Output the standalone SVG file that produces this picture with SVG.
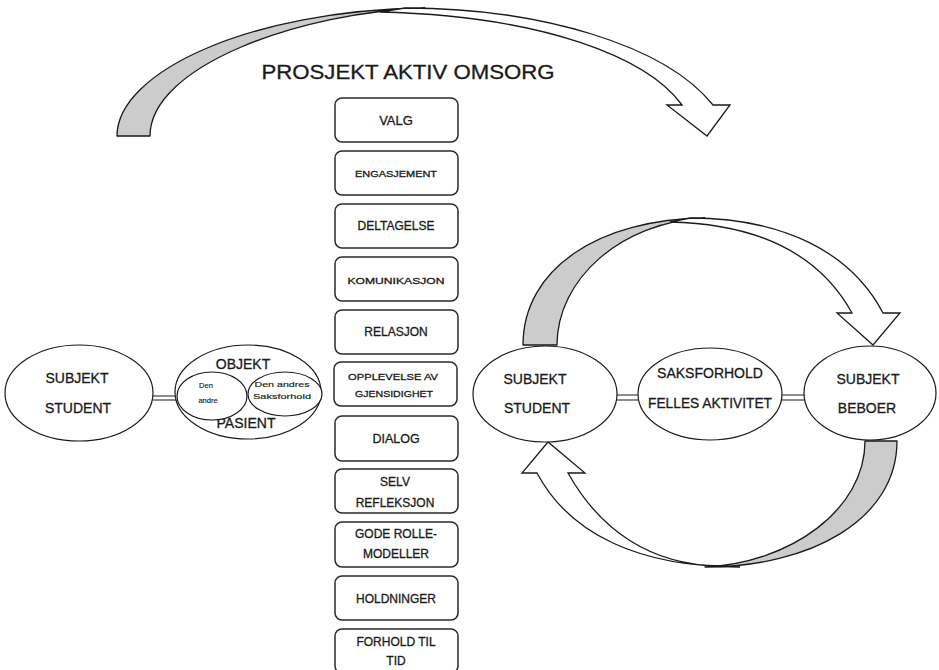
<svg xmlns="http://www.w3.org/2000/svg" width="939" height="670" viewBox="0 0 939 670">
<style>
text{font-family:"Liberation Sans",Arial,sans-serif;fill:#1a1a1a;stroke:#1a1a1a;stroke-width:0.3;text-anchor:middle}
.box{fill:#fff;stroke:#2a2a2a;stroke-width:1.5}
.ell{fill:#fff;stroke:#1a1a1a;stroke-width:1.2}
.gray{fill:#cccccc;stroke:#1a1a1a;stroke-width:1.3;stroke-linejoin:round}
.white{fill:#fff;stroke:#1a1a1a;stroke-width:1.3;stroke-linejoin:miter}
.dl{stroke:#1a1a1a;stroke-width:1.2;fill:none}
.t14{font-size:14px}
.t12{font-size:12px}
.t9{font-size:9px}
.t7{font-size:7.5px;stroke-width:0.15}
</style>
<rect width="939" height="670" fill="#fff"/>

<g id="connectors">
  <path class="gray" d="M117,136 C117,72 250,10 425,8 C300,12 150,66 150,136 Z"/>
  <path class="white" d="M405,8 C540,8 665,45 713,105 L730,105 L707,136 L667,105 L682,105 C648,58 545,16 380,12 Z"/>
  <path class="gray" d="M523,345 C523,268 600,219 705,218 C620,222 557,280 557,345 Z"/>
  <path class="white" d="M690,218 C780,218 850,250 883,313 L900,313 L873,345 L837,313 L852,313 C820,255 760,224 670,222 Z"/>
  <path class="white" d="M740,567 C640,567 570,535 537,473 L522,473 L548,442 L585,473 L568,473 C600,530 650,565 720,566 Z"/>
  <path class="gray" d="M897,441 C897,520 810,567 705,567 C790,563 865,510 865,441 Z"/>
  <path class="dl" d="M153,396 H178 M153,400 H178"/>
  <path class="dl" d="M245,395 H252 M245,398.5 H252"/>
  <path class="dl" d="M617,395 H639 M617,400 H639"/>
  <path class="dl" d="M782,395 H806 M782,400 H806"/>
</g>

<g id="title"><text x="408" y="79" font-size="20" textLength="293" lengthAdjust="spacingAndGlyphs">PROSJEKT AKTIV OMSORG</text></g>

<g id="subjekt-student-left">
  <ellipse class="ell" cx="79" cy="393" rx="74" ry="48"/>
  <text class="t14" x="77" y="383">SUBJEKT</text>
  <text class="t14" x="78" y="413">STUDENT</text>
</g>
<g id="objekt-pasient">
  <ellipse class="ell" cx="248" cy="392" rx="73" ry="47"/>
  <text class="t14" x="243" y="369">OBJEKT</text>
  <text class="t14" x="246" y="428">PASIENT</text>
  <g id="den-andre">
    <ellipse class="ell" cx="212" cy="396" rx="35" ry="24"/>
    <text class="t7" x="206" y="388">Den</text>
    <text class="t7" x="208" y="403">andre</text>
  </g>
  <g id="den-andres-saksforhold">
    <ellipse class="ell" cx="285" cy="394" rx="37" ry="22"/>
    <text class="t7" x="282" y="387" textLength="55" lengthAdjust="spacingAndGlyphs">Den andres</text>
    <text class="t7" x="282" y="399" textLength="58" lengthAdjust="spacingAndGlyphs">Saksforhold</text>
  </g>
</g>

<g id="valg"><rect class="box" x="335" y="98" width="123" height="44" rx="7"/><text x="396" y="125" font-size="13">VALG</text></g>
<g id="engasjement"><rect class="box" x="335" y="151" width="123" height="44" rx="7"/><text class="t9" x="396" y="177" textLength="82" lengthAdjust="spacingAndGlyphs">ENGASJEMENT</text></g>
<g id="deltagelse"><rect class="box" x="335" y="204" width="123" height="44" rx="7"/><text class="t12" x="396" y="230">DELTAGELSE</text></g>
<g id="komunikasjon"><rect class="box" x="335" y="257" width="123" height="44" rx="7"/><text class="t9" x="396" y="284" textLength="97" lengthAdjust="spacingAndGlyphs">KOMUNIKASJON</text></g>
<g id="relasjon"><rect class="box" x="335" y="310" width="123" height="44" rx="7"/><text class="t12" x="396" y="336">RELASJON</text></g>
<g id="opplevelse"><rect class="box" x="334" y="362" width="123" height="44" rx="7"/><text class="t9" x="393" y="380" textLength="90" lengthAdjust="spacingAndGlyphs">OPPLEVELSE  AV</text><text class="t9" x="394" y="397" textLength="78" lengthAdjust="spacingAndGlyphs">GJENSIDIGHET</text></g>
<g id="dialog"><rect class="box" x="335" y="416" width="123" height="45" rx="7"/><text x="396" y="443" font-size="12.5">DIALOG</text></g>
<g id="selv-refleksjon"><rect class="box" x="335" y="469" width="123" height="44" rx="7"/><text class="t12" x="395" y="486">SELV</text><text class="t12" x="395" y="507">REFLEKSJON</text></g>
<g id="gode-rollemodeller"><rect class="box" x="335" y="522" width="123" height="45" rx="7"/><text class="t12" x="396" y="538">GODE ROLLE-</text><text class="t12" x="396" y="558">MODELLER</text></g>
<g id="holdninger"><rect class="box" x="335" y="576" width="123" height="44" rx="7"/><text class="t12" x="396" y="603">HOLDNINGER</text></g>
<g id="forhold-til-tid"><rect class="box" x="335" y="629" width="123" height="44" rx="7"/><text class="t12" x="396" y="646">FORHOLD TIL</text><text class="t12" x="396" y="665">TID</text></g>

<g id="subjekt-student-right">
  <ellipse class="ell" cx="545" cy="394" rx="72" ry="48"/>
  <text class="t14" x="535" y="384">SUBJEKT</text>
  <text class="t14" x="537" y="413">STUDENT</text>
</g>
<g id="saksforhold">
  <ellipse class="ell" cx="710" cy="394" rx="72" ry="46"/>
  <text class="t14" x="710" y="378">SAKSFORHOLD</text>
  <text class="t14" x="710" y="408" textLength="124" lengthAdjust="spacingAndGlyphs">FELLES AKTIVITET</text>
</g>
<g id="subjekt-beboer">
  <ellipse class="ell" cx="870" cy="393" rx="66" ry="47"/>
  <text class="t14" x="868" y="384">SUBJEKT</text>
  <text class="t14" x="867" y="413">BEBOER</text>
</g>
</svg>
